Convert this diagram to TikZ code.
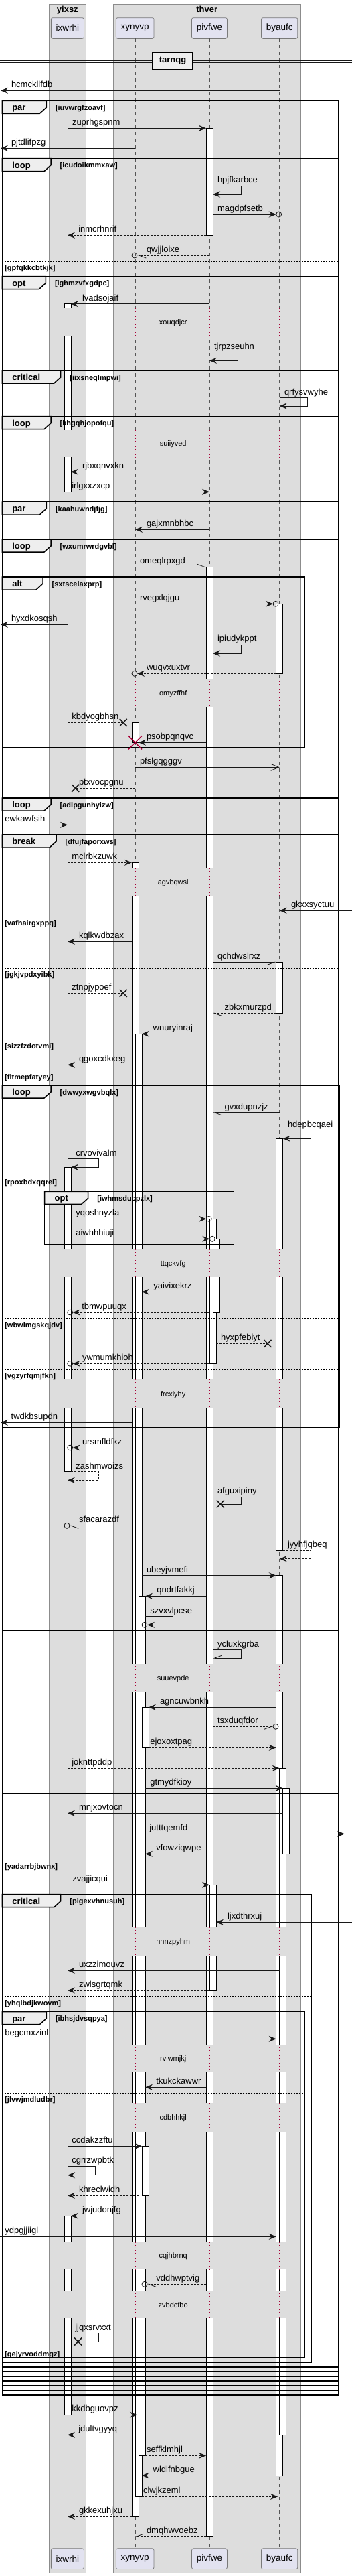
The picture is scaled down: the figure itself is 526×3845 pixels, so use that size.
\documentclass[tikz,border=0pt]{standalone}
\usepackage{fontspec}
\setmainfont{Liberation Sans}
\usetikzlibrary{arrows.meta,calc,shapes.misc}

\definecolor{grpfill}{HTML}{DDDDDD}
\definecolor{grpline}{HTML}{8C8C8C}
\definecolor{partfill}{HTML}{E2E2F0}
\definecolor{partline}{HTML}{7A7A7A}
\definecolor{tabfill}{HTML}{EEEEEE}
\definecolor{msgcol}{HTML}{181818}
\definecolor{lifecol}{HTML}{555555}
\definecolor{dlycol}{HTML}{A80036}

\newcounter{nm}
% message text, baseline just above the line
\newcommand\lbl[3]{\stepcounter{nm}\node[mtxt] (l\thenm) at (#1,#2-4.5) {#3};}
% frame header tab
\newcommand\ftab[5]{%
  \draw[tab] (#1,#2) -- (#3,#2) -- (#3,#2+10) -- (#3-10,#2+19) -- (#1,#2+19) -- cycle;
  \stepcounter{nm}\node[kw] (k\thenm) at (#1+15,#2+14.5) {#4};
  \node[grd] (g\thenm) at (#3+13.7,#2+14) {#5};}
% else separator
\newcommand\felse[3]{%
  \draw[elsel] (3.3,#2) -- (#1,#2);
  \stepcounter{nm}\node[grd] (e\thenm) at (7.3,#2+13) {#3};}
% delay band
\newcommand\delay[3]{%
  \fill[grpfill] (73.5,#1) rectangle (128.2,#2);
  \fill[grpfill] (169.8,#1) rectangle (448.8,#2);
  \foreach \p in {ix,xy,pv,by} \draw[dly] ($(\p)+(0,#1)$) -- ($(\p)+(0,#2)$);
  \stepcounter{nm}\node[dtxt] (d\thenm) at (258.7,{(#1+#2)/2+1}) {#3};}

\begin{document}
\begin{tikzpicture}[x=1pt,y=-1pt,
  every node/.style={inner sep=0pt,outer sep=0pt},
  grp/.style={fill=grpfill,draw=grpline,line width=0.8pt},
  grpttl/.style={font=\bfseries\fontsize{13}{15}\selectfont,anchor=base},
  part/.style={draw=partline,fill=partfill,line width=0.8pt,rounded corners=2.5pt,
    minimum height=30.7pt,inner xsep=7.3pt,font=\fontsize{13.5}{16}\selectfont},
  life/.style={draw=lifecol,line width=0.8pt,dash pattern=on 5pt off 5pt},
  dly/.style={draw=dlycol,line width=0.8pt,dash pattern=on 1pt off 3pt},
  dtxt/.style={font=\fontsize{11}{13}\selectfont},
  frm/.style={draw=black,line width=1.5pt},
  tab/.style={draw=black,fill=tabfill,line width=1.5pt},
  kw/.style={font=\bfseries\fontsize{13}{15}\selectfont,anchor=base west},
  grd/.style={font=\bfseries\fontsize{11}{13}\selectfont,anchor=base west},
  elsel/.style={draw=black,line width=0.8pt,dash pattern=on 2pt off 2pt},
  act/.style={draw=black,fill=white,line width=0.8pt},
  mtxt/.style={font=\fontsize{13}{15}\selectfont,anchor=base west},
  plain/.style={draw=msgcol,line width=0.8pt},
  dplain/.style={plain,dash pattern=on 3pt off 2pt},
  msg/.style={plain,-{Stealth[length=11pt,width=9pt,inset=4pt]}},
  dmsg/.style={msg,dash pattern=on 3pt off 2pt},
  omsg/.style={plain,-{Straight Barb[length=12pt,width=10pt]}},
  hl/.style={plain,-{Straight Barb[left,length=11pt,width=8pt]}},
  hr/.style={plain,-{Straight Barb[right,length=11pt,width=8pt]}},
  dhl/.style={hl,dash pattern=on 3pt off 2pt},
  dhr/.style={hr,dash pattern=on 3pt off 2pt},
  endc/.style={circle,draw=msgcol,line width=0.8pt,minimum size=8pt},
  lost/.style={cross out,draw=msgcol,line width=1.5pt,minimum size=11pt},
  kill/.style={cross out,draw=dlycol,line width=1.5pt,minimum size=20pt}]
\useasboundingbox (0,0) rectangle (526,3845);

% boxes
\draw[grp] (73,6) rectangle (128.7,3840);
\draw[grp] (169.3,6) rectangle (449.3,3840);
\node[grpttl] (yixsz) at (100.85,18.5) {yixsz};
\node[grpttl] (thver) at (309.3,18.5) {thver};

\coordinate (ix) at (101,0);
\coordinate (xy) at (202,0);
\coordinate (pv) at (313,0);
\coordinate (by) at (417.7,0);
\coordinate (lft) at (0,0);
\coordinate (rgt) at (526,0);

\node[part] (ixwrhi) at (100.9,42) {ixwrhi};
\node[part] (xynyvp) at (201.7,42) {xynyvp};
\node[part] (pivfwe) at (313,42) {pivfwe};
\node[part] (byaufc) at (417.7,42) {byaufc};
\node[part] (ixwrhi-b) at (100.9,3819.2) {ixwrhi};
\node[part] (xynyvp-b) at (201.7,3819.2) {xynyvp};
\node[part] (pivfwe-b) at (313,3819.2) {pivfwe};
\node[part] (byaufc-b) at (417.7,3819.2) {byaufc};

\draw[life] (ix |- ixwrhi.south) -- (ix |- ixwrhi-b.north);
\draw[life] (xy |- xynyvp.south) -- (xy |- xynyvp-b.north);
\draw[life] (pv |- pivfwe.south) -- (pv |- pivfwe-b.north);
\draw[life] (by |- byaufc.south) -- (by |- byaufc-b.north);

% divider
\draw[msgcol,line width=0.8pt] (lft |- 0,90.7) -- (rgt |- 0,90.7) (lft |- 0,93.3) -- (rgt |- 0,93.3);
\node[draw=black,fill=tabfill,line width=1.8pt,minimum width=59.4pt,minimum height=26pt,
  font=\bfseries\fontsize{13}{15}\selectfont] (tarnqg) at (258,91) {tarnqg};

% activations
\draw[act] (96,453.7) rectangle (106,734.3);
\draw[act] (96,1742.3) rectangle (106,2196.7);
\draw[act] (96,3307.3) rectangle (106,3604.3);
\draw[act] (197,1078.3) rectangle (207,1108.3);
\draw[act] (197,1287.3) rectangle (207,3756.3);
\draw[act] (202,1543.3) rectangle (212,3726.3);
\draw[act] (207,2382.3) rectangle (217,3665.3);
\draw[act] (212,2548.3) rectangle (222,2608.3);
\draw[act] (212,3203.3) rectangle (222,3277.3);
\draw[act] (308,191.3) rectangle (318,351.3);
\draw[act] (308,846.3) rectangle (318,3786.3);
\draw[act] (313,1819.3) rectangle (323,2035.3);
\draw[act] (318,1849.3) rectangle (328,1959.3);
\draw[act] (313,2813.3) rectangle (323,2971);
\draw[act] (412.7,901.3) rectangle (422.7,1005.3);
\draw[act] (412.7,1436.3) rectangle (422.7,1512.3);
\draw[act] (412.7,1699.3) rectangle (422.7,2314);
\draw[act] (412.7,2351.7) rectangle (422.7,3695);
\draw[act] (417.7,2639.3) rectangle (427.7,3634.3);
\draw[act] (422.7,2669.3) rectangle (432.7,2767.3);

% delays
\foreach \a/\b/\t in {460/501.7/xouqdjcr, 641.7/682.3/suiiyved, 1013.3/1055.7/omyzffhf,
  1295.7/1337.3/agvbqwsl, 1865/1905.7/ttqckvfg, 2059.3/2101.7/frcxiyhy,
  2483.3/2525/suuevpde, 2876.7/2919.3/hnnzpyhm, 3051.7/3093.3/rviwmjkj,
  3139.3/3181.7/cdbhhkjl, 3346.7/3387.3/cqjhbrnq, 3418.7/3460/zvbdcfbo}
  {\delay{\a}{\b}{\t}}

% frames
\draw[frm] (3.3,150.3) rectangle (505.3,3575);
\draw[frm] (3.3,236.7) rectangle (505.3,3568);
\draw[frm] (3.3,412.7) rectangle (505.3,3561);
\draw[frm] (3.3,553) rectangle (505.3,3554);
\draw[frm] (3.3,621.7) rectangle (505.3,3547);
\draw[frm] (3.3,749) rectangle (505.3,3540);
\draw[frm] (3.3,805) rectangle (505.3,3533);
\draw[frm] (3.3,861) rectangle (455.3,1116);
\draw[frm] (3.3,1191) rectangle (505.3,2677.3);
\draw[frm] (3.3,1246) rectangle (505.3,2433.3);
\draw[frm] (3.3,1620) rectangle (507.3,2130.7);
\draw[frm] (66.7,1778.3) rectangle (349.3,1857.3);
\draw[frm] (3.3,2827.7) rectangle (465.3,3526);
\draw[frm] (3.3,3002.7) rectangle (455.3,3519);
\felse{505.3}{390.3}{[gpfqkkcbtkjk]}
\felse{505.3}{1368.3}{[vafhairgxppq]}
\felse{505.3}{1445}{[jgkjvpdxyibk]}
\felse{505.3}{1552.3}{[sizzfzdotvmi]}
\felse{505.3}{1598.3}{[fltmepfatyey]}
\felse{507.3}{1755.7}{[rpoxbdxqqrel]}
\felse{507.3}{1968.3}{[wbwlmgskqjdv]}
\felse{507.3}{2044.3}{[vgzyrfqmjfkn]}
\felse{505.3}{2776.3}{[yadarrbjbwnx]}
\felse{465.3}{2980}{[yhqlbdjkwovm]}
\felse{455.3}{3124}{[jlvwjmdludbr]}
\felse{455.3}{3504.3}{[gejyrvoddmgz]}

% tabs
\ftab{3.3}{150.3}{69.3}{par}{[iuvwrgfzoavf]}
\ftab{3.3}{236.7}{76}{loop}{[icudoikmmxaw]}
\ftab{3.3}{412.7}{68.3}{opt}{[lghmzvfxgdpc]}
\ftab{3.3}{553}{90.7}{critical}{[iixsneqlmpwi]}
\ftab{3.3}{621.7}{76}{loop}{[khgqhjopofqu]}
\ftab{3.3}{749}{69.3}{par}{[kaahuwndjfjg]}
\ftab{3.3}{805}{76}{loop}{[wxumrwrdgvbl]}
\ftab{3.3}{861}{64}{alt}{[sxtscelaxprp]}
\ftab{3.3}{1191}{76}{loop}{[adlpgunhyizw]}
\ftab{3.3}{1246}{84}{break}{[dfujfaporxws]}
\ftab{3.3}{1620}{76}{loop}{[dwwyxwgvbqlx]}
\ftab{66.7}{1778.3}{131.7}{opt}{[iwhmsducpzlx]}
\ftab{3.3}{2827.7}{90.7}{critical}{[pigexvhnusuh]}
\ftab{3.3}{3002.7}{69.3}{par}{[ibhsjdvsqpya]}

% messages
\draw[msg] ($(by)+(0,135.3)$) -- ($(lft)+(1,135.3)$); \lbl{17}{135.3}{hcmckllfdb}
\draw[msg] ($(ix)+(0,191.3)$) -- ($(pv)+(-5,191.3)$); \lbl{108}{191.3}{zuprhgspnm}
\draw[msg] ($(xy)+(0,221.3)$) -- ($(lft)+(1,221.3)$); \lbl{17}{221.3}{pjtdlifpzg}
\draw[msg] ($(pv)+(5,277.3)$) -- ++(42,0) -- ++(0,12.7) -- ($(pv)+(5,290)$); \lbl{325}{277.3}{hpjfkarbce}
\node[endc] (c1) at ($(by)+(-1,320)$) {};
\draw[msg] ($(pv)+(5,320)$) -- (c1.west); \lbl{325}{320}{magdpfsetb}
\draw[dmsg] ($(pv)+(-5,351.3)$) -- ($(ix)+(0,351.3)$); \lbl{117.3}{351.3}{inmcrhnrif}
\node[endc] (c2) at ($(xy)+(-1,381)$) {};
\draw[dhl] ($(pv)+(0,381)$) -- (c2.east); \lbl{219}{381}{qwjjloixe}
\draw[msg] ($(pv)+(0,453.7)$) -- ($(ix)+(5,453.7)$); \lbl{123}{453.7}{lvadsojaif}
\draw[msg] ($(pv)+(0,525.7)$) -- ++(42,0) -- ++(0,12.6) -- ($(pv)+(0,538.3)$); \lbl{320}{525.7}{tjrpzseuhn}
\draw[msg] ($(by)+(0,593.7)$) -- ++(41.6,0) -- ++(0,12.3) -- ($(by)+(0,606)$); \lbl{425}{593.7}{qrfysvwyhe}
\draw[dmsg] ($(by)+(0,704.3)$) -- ($(ix)+(5,704.3)$); \lbl{123}{704.3}{rjbxqnvxkn}
\draw[dmsg] ($(ix)+(5,734.3)$) -- ($(pv)+(0,734.3)$); \lbl{107.3}{734.3}{irlgxxzxcp}
\draw[msg] ($(pv)+(0,790.3)$) -- ($(xy)+(0,790.3)$); \lbl{219}{790.3}{gajxmnbhbc}
\draw[hl] ($(xy)+(0,846.3)$) -- ($(pv)+(-5,846.3)$); \lbl{209}{846.3}{omeqlrpxgd}
\node[endc] (c3) at ($(by)+(-5.7,901.3)$) {};
\draw[msg] ($(xy)+(0,901.3)$) -- (c3.west); \lbl{209}{901.3}{rvegxlqjgu}
\draw[msg] ($(ix)+(0,932.3)$) -- ($(lft)+(1,932.3)$); \lbl{17}{932.3}{hyxdkosqsh}
\draw[msg] ($(pv)+(5,962.3)$) -- ++(42,0) -- ++(0,12.7) -- ($(pv)+(5,975)$); \lbl{325}{962.3}{ipiudykppt}
\node[endc] (c4) at ($(xy)+(-1,1005.3)$) {};
\draw[dmsg] ($(by)+(-5,1005.3)$) -- (c4.east); \lbl{219}{1005.3}{wuqvxuxtvr}
\node[lost] (x1) at (184.3,1078.3) {};
\draw[dplain] ($(ix)+(0,1078.3)$) -- (x1.center); \lbl{107.3}{1078.3}{kbdyogbhsn}
\draw[msg] ($(pv)+(-5,1108.3)$) -- ($(xy)+(5,1108.3)$); \lbl{219}{1108.3}{psobpqnqvc}
\node[kill] (x2) at ($(xy)+(0,1108.3)$) {};
\draw[omsg] ($(xy)+(0,1145.3)$) -- ($(by)+(0,1145.3)$); \lbl{209}{1145.3}{pfslgqgggv}
\node[lost] (x3) at (112.7,1176.3) {};
\draw[dplain] ($(xy)+(0,1176.3)$) -- (x3.center); \lbl{118}{1176.3}{ptxvocpgnu}
\draw[msg] ($(lft)+(0,1231.3)$) -- ($(ix)+(0,1231.3)$); \lbl{7.3}{1231.3}{ewkawfsih}
\draw[dmsg] ($(ix)+(0,1287.3)$) -- ($(xy)+(-5,1287.3)$); \lbl{107.3}{1287.3}{mclrbkzuwk}
\draw[msg] ($(rgt)+(0,1359.3)$) -- ($(by)+(0,1359.3)$); \lbl{435}{1359.3}{gkxxsyctuu}
\draw[msg] ($(xy)+(-5,1405.3)$) -- ($(ix)+(0,1405.3)$); \lbl{118}{1405.3}{kqlkwdbzax}
\draw[hr] ($(pv)+(5,1436.3)$) -- ($(by)+(-5,1436.3)$); \lbl{325}{1436.3}{qchdwslrxz}
\node[lost] (x4) at (184.3,1482.3) {};
\draw[dplain] ($(ix)+(0,1482.3)$) -- (x4.center); \lbl{107.3}{1482.3}{ztnpjypoef}
\draw[dhl] ($(by)+(-5,1512.3)$) -- ($(pv)+(5,1512.3)$); \lbl{335.7}{1512.3}{zbkxmurzpd}
\draw[msg] ($(by)+(0,1543.3)$) -- ($(xy)+(10,1543.3)$); \lbl{228.7}{1543.3}{wnuryinraj}
\draw[dmsg] ($(xy)+(-5,1589.3)$) -- ($(ix)+(0,1589.3)$); \lbl{118}{1589.3}{qgoxcdkxeg}
\draw[hl] ($(by)+(0,1660.7)$) -- ($(pv)+(5,1660.7)$); \lbl{335.7}{1660.7}{gvxdupnzjz}
\draw[msg] ($(by)+(0,1686.7)$) -- ++(46.6,0) -- ++(0,12.6) -- ($(by)+(5,1699.3)$); \lbl{430}{1686.7}{hdepbcqaei}
\draw[msg] ($(ix)+(0,1729.7)$) -- ++(46.3,0) -- ++(0,12.6) -- ($(ix)+(5,1742.3)$); \lbl{113.3}{1729.7}{crvovivalm}
\node[endc] (c5) at ($(pv)+(-0.7,1819.3)$) {};
\draw[msg] ($(ix)+(5,1819.3)$) -- (c5.west); \lbl{113.3}{1819.3}{yqoshnyzla}
\node[endc] (c6) at ($(pv)+(4.3,1849.3)$) {};
\draw[msg] ($(ix)+(5,1849.3)$) -- (c6.west); \lbl{113.3}{1849.3}{aiwhhhiuji}
\draw[msg] ($(pv)+(5,1928.3)$) -- ($(xy)+(10,1928.3)$); \lbl{229.3}{1928.3}{yaivixekrz}
\node[endc] (c7) at ($(ix)+(3.7,1959)$) {};
\draw[dmsg] ($(pv)+(0,1959)$) -- (c7.east); \lbl{122.3}{1959}{tbmwpuuqx}
\node[lost] (x5) at (400,2005.3) {};
\draw[dplain] ($(pv)+(10,2005.3)$) -- (x5.center); \lbl{330}{2005.3}{hyxpfebiyt}
\node[endc] (c8) at ($(ix)+(3.7,2035.3)$) {};
\draw[dmsg] ($(pv)+(0,2035.3)$) -- (c8.east); \lbl{123}{2035.3}{ywmumkhioh}
\draw[msg] ($(xy)+(-5,2123.3)$) -- ($(lft)+(1,2123.3)$); \lbl{16.7}{2123.3}{twdkbsupdn}
\node[endc] (c9) at ($(ix)+(3.7,2161)$) {};
\draw[msg] ($(by)+(-5,2161)$) -- (c9.east); \lbl{123}{2161}{ursmfldfkz}
\draw[dmsg] ($(ix)+(5,2196.7)$) -- ++(41.3,0) -- ++(0,12.6) -- ($(ix)+(0,2209.3)$); \lbl{113.3}{2196.7}{zashmwoizs}
\node[lost] (x6) at ($(pv)+(16.3,2245)$) {};
\draw[plain] ($(pv)+(5,2234.3)$) -- ++(42,0) -- ++(0,10.7) -- (x6.center); \lbl{325}{2234.3}{afguxipiny}
\node[endc] (c10) at ($(ix)+(-1,2277.3)$) {};
\draw[dhl] ($(by)+(-5,2277.3)$) -- (c10.east); \lbl{118}{2277.3}{sfacarazdf}
\draw[dmsg] ($(by)+(5,2314)$) -- ++(41.6,0) -- ++(0,12.7) -- ($(by)+(0,2326.7)$); \lbl{430}{2314}{jyyhfjqbeq}
\draw[msg] ($(xy)+(10,2351.7)$) -- ($(by)+(-5,2351.7)$); \lbl{219}{2351.7}{ubeyjvmefi}
\draw[msg] ($(pv)+(-5,2382.3)$) -- ($(xy)+(15,2382.3)$); \lbl{234.3}{2382.3}{qndrtfakkj}
\node[endc] (c11) at ($(xy)+(14,2425.3)$) {};
\draw[msg] ($(xy)+(15,2412.7)$) -- ++(41.7,0) -- ++(0,12.6) -- (c11.east); \lbl{224.3}{2412.7}{szvxvlpcse}
\draw[hr] ($(pv)+(5,2462.7)$) -- ++(42,0) -- ++(0,12.6) -- ($(pv)+(5,2475.3)$); \lbl{325}{2462.7}{ycluxkgrba}
\draw[msg] ($(by)+(-5,2548.3)$) -- ($(xy)+(20,2548.3)$); \lbl{239}{2548.3}{agncuwbnkh}
\node[endc] (c12) at ($(by)+(-5.7,2577.3)$) {};
\draw[dhr] ($(pv)+(5,2577.3)$) -- (c12.west); \lbl{325}{2577.3}{tsxduqfdor}
\draw[dmsg] ($(xy)+(20,2608.3)$) -- ($(by)+(-5,2608.3)$); \lbl{224.3}{2608.3}{ejoxoxtpag}
\draw[dmsg] ($(ix)+(0,2639.3)$) -- ($(by)+(0,2639.3)$); \lbl{107.3}{2639.3}{joknttpddp}
\draw[msg] ($(xy)+(15,2669.3)$) -- ($(by)+(5,2669.3)$); \lbl{224.3}{2669.3}{gtmydfkioy}
\draw[msg] ($(by)+(5,2706.3)$) -- ($(ix)+(0,2706.3)$); \lbl{118}{2706.3}{mnjxovtocn}
\draw[msg] ($(xy)+(15,2737.3)$) -- ($(rgt)+(-11,2737.3)$); \lbl{223.3}{2737.3}{jutttqemfd}
\draw[dmsg] ($(by)+(-3,2767.3)$) -- ($(xy)+(15,2767.3)$); \lbl{233.3}{2767.3}{vfowziqwpe}
\draw[msg] ($(ix)+(0,2813.3)$) -- ($(pv)+(0,2813.3)$); \lbl{108.3}{2813.3}{zvajjicqui}
\draw[msg] ($(rgt)+(0,2869.3)$) -- ($(pv)+(10,2869.3)$); \lbl{340}{2869.3}{ljxdthrxuj}
\draw[msg] ($(by)+(0,2941.3)$) -- ($(ix)+(0,2941.3)$); \lbl{118}{2941.3}{uxzzimouvz}
\draw[dmsg] ($(pv)+(0,2971)$) -- ($(ix)+(0,2971)$); \lbl{118}{2971}{zwlsgrtqmk}
\draw[msg] ($(lft)+(0,3043.3)$) -- ($(by)+(-5,3043.3)$); \lbl{7.3}{3043.3}{begcmxzinl}
\draw[msg] ($(pv)+(-5,3115.3)$) -- ($(xy)+(15,3115.3)$); \lbl{233.3}{3115.3}{tkukckawwr}
\draw[msg] ($(ix)+(0,3203.3)$) -- ($(xy)+(10,3203.3)$); \lbl{107.3}{3203.3}{ccdakzzftu}
\draw[msg] ($(ix)+(0,3233.3)$) -- ++(41.3,0) -- ++(0,13.4) -- ($(ix)+(0,3246.7)$); \lbl{107.3}{3233.3}{cgrrzwpbtk}
\draw[dmsg] ($(xy)+(5,3277.3)$) -- ($(ix)+(0,3277.3)$); \lbl{118}{3277.3}{khreclwidh}
\draw[msg] ($(xy)+(5,3307.3)$) -- ($(ix)+(5,3307.3)$); \lbl{123}{3307.3}{jwjudonjfg}
\draw[msg] ($(lft)+(0,3338.3)$) -- ($(by)+(-5,3338.3)$); \lbl{7.3}{3338.3}{ydpgjjiigl}
\node[endc] (c13) at ($(xy)+(14,3409.3)$) {};
\draw[dhl] ($(pv)+(-5,3409.3)$) -- (c13.east); \lbl{233.3}{3409.3}{vddhwptvig}
\node[lost] (x7) at ($(ix)+(15.7,3495)$) {};
\draw[plain] ($(ix)+(5,3482.7)$) -- ++(41.3,0) -- ++(0,12.3) -- (x7.center); \lbl{112.3}{3482.7}{jjqxsrvxxt}
\draw[dmsg] ($(ix)+(5,3604.3)$) -- ($(xy)+(3,3604.3)$); \lbl{107.3}{3604.3}{kkdbguovpz}
\draw[dmsg] ($(by)+(-5,3634.3)$) -- ($(ix)+(0,3634.3)$); \lbl{117.3}{3634.3}{jdultvgyyq}
\draw[dmsg] ($(xy)+(15,3665.3)$) -- ($(pv)+(-5,3665.3)$); \lbl{219}{3665.3}{seffklmhjl}
\draw[dmsg] ($(by)+(-5,3695)$) -- ($(xy)+(10,3695)$); \lbl{228.7}{3695}{wldlfnbgue}
\draw[dmsg] ($(xy)+(10,3726.3)$) -- ($(by)+(-2.7,3726.3)$); \lbl{214}{3726.3}{clwjkzeml}
\draw[dmsg] ($(xy)+(-5,3756.3)$) -- ($(ix)+(0,3756.3)$); \lbl{118}{3756.3}{gkkexuhjxu}
\draw[dhr] ($(pv)+(-5,3786.3)$) -- ($(xy)+(-1,3786.3)$); \lbl{219}{3786.3}{dmqhwvoebz}
\end{tikzpicture}
\end{document}
